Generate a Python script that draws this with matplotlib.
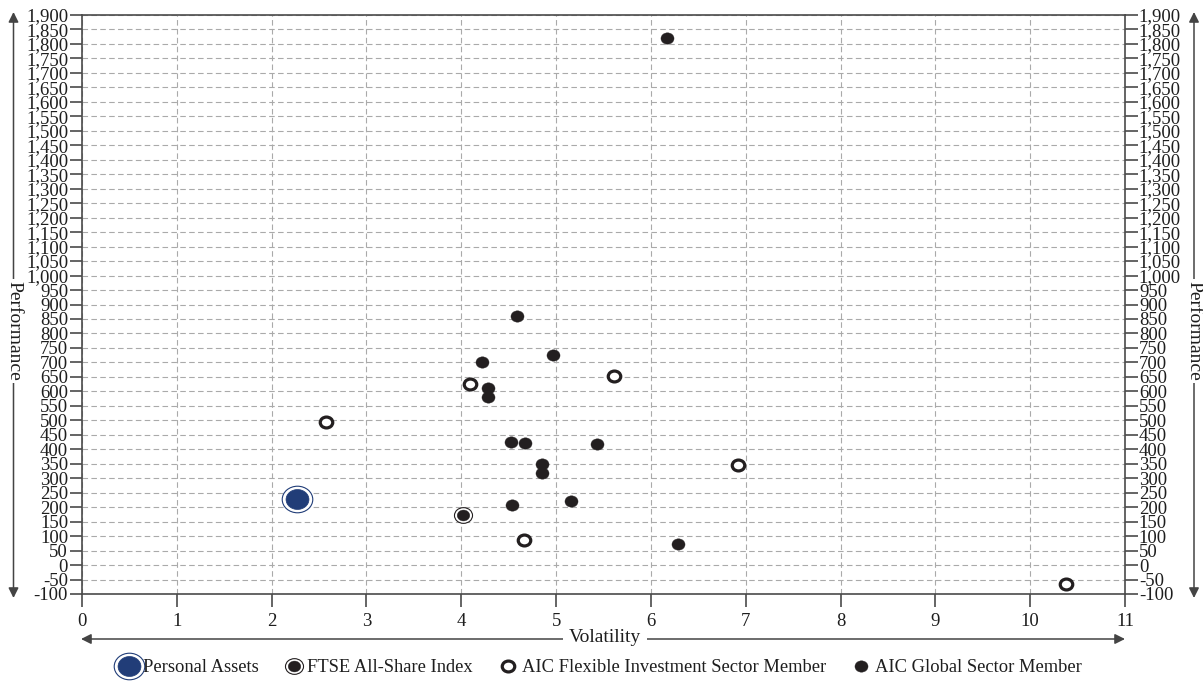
import matplotlib
matplotlib.use("Agg")
import matplotlib.pyplot as plt
from matplotlib.lines import Line2D
from matplotlib.path import Path
from matplotlib.transforms import Affine2D
from matplotlib.legend_handler import HandlerTuple
from matplotlib.ticker import FuncFormatter, MultipleLocator
from matplotlib.patches import FancyArrowPatch

plt.rcParams['font.family'] = ['Liberation Serif', 'DejaVu Serif']

# ---- data ----
personal_x = [2.27]
personal_y = [227]
ftse_x = [4.02]
ftse_y = [172]
flex_x = [2.57, 4.09, 5.61, 6.92, 4.66, 10.38]
flex_y = [495, 624, 653, 347, 87, -65]
glob_x = [6.17, 4.59, 4.97, 4.22, 4.28, 4.28, 4.52, 4.67, 5.43, 4.85, 4.85, 5.16, 4.53, 6.29]
glob_y = [1820, 860, 726, 702, 613, 579, 426, 420, 418, 348, 319, 220, 207, 72]
legend_labels = ["Personal Assets", "FTSE All-Share Index",
                 "AIC Flexible Investment Sector Member", "AIC Global Sector Member"]

navy = '#213d78'
black = '#231f20'
axis_col = '#4a4a4a'
txt_col = '#1e1e1e'
fs_tick = 13.5
fs_title = 14
fs_leg = 13.3

ell = Path.unit_circle().transformed(Affine2D().scale(1.15, 1.0))

fig = plt.figure(figsize=(12.03, 6.82), dpi=100)
ax = fig.add_axes([82/1203, 1-594/682, (1125-82)/1203, (594-15)/682])

ax.set_xlim(0, 11)
ax.set_ylim(-100, 1900)
ax.xaxis.set_major_locator(MultipleLocator(1))
ax.yaxis.set_major_locator(MultipleLocator(50))
ax.yaxis.set_major_formatter(FuncFormatter(lambda v, p: f"{int(v):,}"))
ax.grid(True, linestyle=(0, (5, 3)), color='#aaaaaa', linewidth=0.8)
ax.set_axisbelow(True)
for s in ax.spines.values():
    s.set_color(axis_col)
    s.set_linewidth(1.2)
ax.tick_params(axis='both', direction='out', length=9, width=1.2, color=axis_col,
               labelsize=fs_tick, labelcolor=txt_col, pad=2)
ax.tick_params(axis='y', left=True, right=True, labelleft=True, labelright=True, pad=1)
ax.tick_params(axis='x', pad=5)

# series
ax.plot(personal_x, personal_y, ls='none', marker=ell, markersize=22, markerfacecolor='white',
        markeredgecolor=navy, markeredgewidth=0.8, zorder=3)
ax.plot(personal_x, personal_y, ls='none', marker=ell, markersize=16.5, markerfacecolor=navy,
        markeredgecolor=navy, markeredgewidth=0.5, zorder=4)
ax.plot(ftse_x, ftse_y, ls='none', marker=ell, markersize=13, markerfacecolor='white',
        markeredgecolor=black, markeredgewidth=0.8, zorder=3)
ax.plot(ftse_x, ftse_y, ls='none', marker=ell, markersize=9, markerfacecolor=black,
        markeredgecolor=black, markeredgewidth=0.3, zorder=4)
ax.plot(flex_x, flex_y, ls='none', marker=ell, markersize=9, markerfacecolor='white',
        markeredgecolor=black, markeredgewidth=2.3, zorder=3)
ax.plot(glob_x, glob_y, ls='none', marker=ell, markersize=9.4, markerfacecolor=black,
        markeredgecolor=black, markeredgewidth=0.3, zorder=3)

# axis-title arrows
arrow_kw = dict(arrowstyle='<|-|>', lw=1.1, color='#444444', mutation_scale=15, shrinkA=0, shrinkB=0)
def fx(px):
    return px / 1203
def fy(py):
    return 1 - py / 682

for xp in (13.5, 1194):
    fig.add_artist(FancyArrowPatch((fx(xp), fy(598)), (fx(xp), fy(12)),
                   transform=fig.transFigure, **arrow_kw))
    fig.text(fx(xp), fy(331), "Performance", rotation=270, ha='center', va='center',
             fontsize=fs_title, color=txt_col,
             bbox=dict(facecolor='white', edgecolor='none', pad=1.5))

fig.add_artist(FancyArrowPatch((fx(81), fy(639)), (fx(1125), fy(639)),
               transform=fig.transFigure, **arrow_kw))
fig.text(fx(605), fy(638), "Volatility", ha='center', va='center', fontsize=fs_title, color=txt_col,
         bbox=dict(facecolor='white', edgecolor='none', pad=4))

# legend
h_pa = (Line2D([], [], ls='none', marker=ell, markersize=22, markerfacecolor='white',
               markeredgecolor=navy, markeredgewidth=0.8),
        Line2D([], [], ls='none', marker=ell, markersize=16.5, markerfacecolor=navy,
               markeredgecolor=navy, markeredgewidth=0.5))
h_ftse = (Line2D([], [], ls='none', marker=ell, markersize=13, markerfacecolor='white',
                 markeredgecolor=black, markeredgewidth=0.8),
          Line2D([], [], ls='none', marker=ell, markersize=9, markerfacecolor=black,
                 markeredgecolor=black, markeredgewidth=0.3))
h_flex = Line2D([], [], ls='none', marker=ell, markersize=9, markerfacecolor='white',
                markeredgecolor=black, markeredgewidth=2.3)
h_glob = Line2D([], [], ls='none', marker=ell, markersize=9.4, markerfacecolor=black,
                markeredgecolor=black, markeredgewidth=0.3)
fig.legend([h_pa, h_ftse, h_flex, h_glob], legend_labels, loc='center',
           bbox_to_anchor=(fx(600), fy(668)), ncol=4, frameon=False, fontsize=fs_leg,
           handler_map={tuple: HandlerTuple(ndivide=1)}, handlelength=1.2,
           handletextpad=0.15, columnspacing=1.3, labelcolor=txt_col)

fig.savefig("out.png", dpi=100)
